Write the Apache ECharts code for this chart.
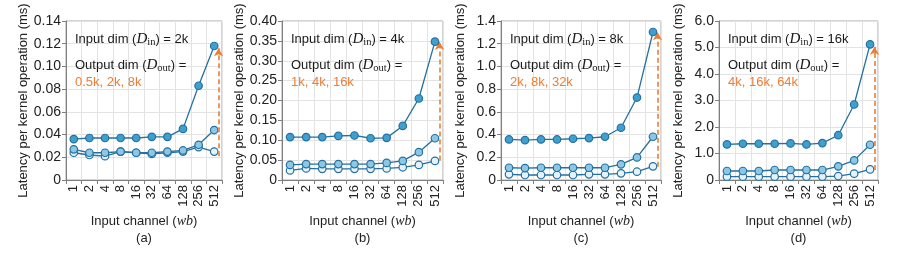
<!DOCTYPE html>
<html><head><meta charset="utf-8">
<script src="https://cdn.jsdelivr.net/npm/echarts@6/dist/echarts.min.js"></script>
<style>html,body{margin:0;padding:0;background:#fff}#c{width:897px;height:255px}</style>
</head><body><div id="c"></div>
<script>
const categories = ['1','2','4','8','16','32','64','128','256','512'];

// panel (a): D_in = 2k, D_out = 0.5k / 2k / 8k
const a_small = [0.024,0.022,0.021,0.025,0.024,0.023,0.024,0.025,0.029,0.025];
const a_mid   = [0.027,0.024,0.024,0.025,0.024,0.024,0.025,0.026,0.031,0.044];
const a_large = [0.036,0.037,0.037,0.037,0.037,0.038,0.038,0.045,0.083,0.118];
// panel (b): D_in = 4k
const b_small = [0.024,0.029,0.028,0.028,0.028,0.028,0.029,0.032,0.038,0.048];
const b_mid   = [0.038,0.040,0.040,0.040,0.040,0.040,0.043,0.048,0.070,0.105];
const b_large = [0.108,0.108,0.108,0.111,0.112,0.105,0.106,0.136,0.205,0.348];
// panel (c): D_in = 8k
const c_small = [0.050,0.044,0.044,0.044,0.044,0.050,0.050,0.059,0.073,0.120];
const c_mid   = [0.108,0.105,0.108,0.108,0.108,0.108,0.108,0.138,0.199,0.381];
const c_large = [0.357,0.351,0.357,0.357,0.363,0.369,0.381,0.460,0.726,1.303];
// panel (d): D_in = 16k
const d_small = [0.125,0.125,0.125,0.125,0.125,0.125,0.125,0.150,0.240,0.400];
const d_mid   = [0.340,0.340,0.340,0.377,0.377,0.377,0.377,0.515,0.740,1.330];
const d_large = [1.343,1.368,1.368,1.368,1.381,1.343,1.393,1.690,2.850,5.120];

// y-axis ranges
const yMax = [0.14, 0.40, 1.4, 6.0];
const yStep = [0.02, 0.05, 0.2, 1.0];
const yDecimals = [2, 2, 1, 1];
// arrows (from, to) in data units
const arrowFrom = [0.021, 0.049, 0.117, 0.38];
const arrowTo   = [0.116, 0.348, 1.30, 5.03];
// annotation texts
const dinText = ['2k','4k','8k','16k'];
const doutText = ['0.5k, 2k, 8k','1k, 4k, 16k','2k, 8k, 32k','4k, 16k, 64k'];
const panelLabels = ['(a)','(b)','(c)','(d)'];

const panels = [[a_small,a_mid,a_large],[b_small,b_mid,b_large],[c_small,c_mid,c_large],[d_small,d_mid,d_large]];

const layout = [
  {left:66, width:156, nameGap:36},
  {left:282, width:161, nameGap:33},
  {left:501, width:160, nameGap:34},
  {left:719, width:159, nameGap:34}
];
const TOP = 21, HEIGHT = 159;
const FONT = 'Liberation Sans, Arial, sans-serif';
const SERIF = 'Liberation Serif, DejaVu Serif, serif';
const LINE = '#2570a0';
const FILLS = ['#e4f2fa', '#8cc8e6', '#3f9fcf'];
const ORANGE = '#ED7D31';

const grid = [], xAxis = [], yAxis = [], series = [], title = [];
layout.forEach((L, i) => {
  grid.push({left:L.left, top:TOP, width:L.width, height:HEIGHT, show:true, borderColor:'#a6a6a6', borderWidth:1, containLabel:false});
  xAxis.push({
    type:'category', gridIndex:i, data:categories, boundaryGap:true,
    axisLine:{lineStyle:{color:'#7f7f7f'}},
    axisTick:{show:true, alignWithLabel:false, length:4, lineStyle:{color:'#7f7f7f'}},
    axisLabel:{rotate:90, color:'#222', fontSize:13, fontFamily:FONT, margin:5, interval:0},
    splitLine:{show:true, interval:0, lineStyle:{color:'#e3e3e3'}},
    name:'{n|Input channel (}{i|wb}{n|)}', nameLocation:'middle', nameGap:34,
    nameTextStyle:{rich:{n:{fontSize:13, fontFamily:FONT, color:'#222'}, i:{fontSize:14, fontFamily:SERIF, fontStyle:'italic', color:'#222'}}}
  });
  xAxis.push({type:'value', gridIndex:i, min:0, max:10, show:false});
  const dec = yDecimals[i];
  yAxis.push({
    type:'value', gridIndex:i, min:0, max:yMax[i], interval:yStep[i],
    axisLine:{show:true, lineStyle:{color:'#7f7f7f'}},
    axisTick:{show:true, length:4, lineStyle:{color:'#7f7f7f'}},
    axisLabel:{color:'#222', fontSize:14, fontFamily:FONT, margin:5, formatter:v => v === 0 ? '0' : v.toFixed(dec)},
    splitLine:{show:true, lineStyle:{color:'#e3e3e3'}},
    name:'Latency per kernel operation (ms)', nameLocation:'middle', nameGap:L.nameGap,
    nameTextStyle:{fontSize:13, fontFamily:FONT, color:'#222'}
  });
  panels[i].forEach((arr, k) => {
    series.push({
      type:'line', xAxisIndex:i*2, yAxisIndex:i, data:arr,
      symbol:'circle', symbolSize:7.5, showSymbol:true,
      lineStyle:{color:LINE, width:1.3},
      itemStyle:{color:FILLS[k], borderColor:LINE, borderWidth:1.2},
      z:3 + k, animation:false
    });
  });
  series.push({
    type:'line', xAxisIndex:i*2+1, yAxisIndex:i, data:[], animation:false,
    markLine:{
      silent:true, symbol:['none','arrow'], symbolSize:[7,8], animation:false,
      label:{show:false},
      lineStyle:{color:ORANGE, type:[5,3], width:1.6},
      data:[[{coord:[9.78, arrowFrom[i]]},{coord:[9.78, arrowTo[i]]}]]
    }
  });
  const tx = L.left + 9;
  const rich = {
    n:{fontSize:13, fontFamily:FONT, fontWeight:'normal', color:'#1a1a1a', lineHeight:18, verticalAlign:'middle'},
    d:{fontSize:15, fontFamily:SERIF, fontStyle:'italic', fontWeight:'normal', color:'#1a1a1a', lineHeight:18, verticalAlign:'middle'},
    s:{fontSize:10.5, fontFamily:SERIF, fontWeight:'normal', color:'#1a1a1a', lineHeight:11, verticalAlign:'bottom'},
    o:{fontSize:13, fontFamily:FONT, fontWeight:'normal', color:ORANGE, lineHeight:18}
  };
  title.push({left:tx, top:30, padding:0, text:'{n|Input dim (}{d|D}{s|in}{n|) = ' + dinText[i] + '}', textStyle:{fontWeight:'normal', rich}});
  title.push({left:tx, top:56, padding:0, text:'{n|Output dim (}{d|D}{s|out}{n|) =}', textStyle:{fontWeight:'normal', rich}});
  title.push({left:tx, top:73, padding:0, text:'{o|' + doutText[i] + '}', textStyle:{fontWeight:'normal', rich}});
  title.push({left:L.left + L.width/2, textAlign:'center', top:232, padding:0, text:panelLabels[i], textStyle:{fontSize:13, fontWeight:'normal', fontFamily:FONT, color:'#222'}});
});

const chart = echarts.init(document.getElementById('c'), null, {renderer:'canvas'});
chart.setOption({animation:false, backgroundColor:'#fff', title, grid, xAxis, yAxis, series});
</script></body></html>
